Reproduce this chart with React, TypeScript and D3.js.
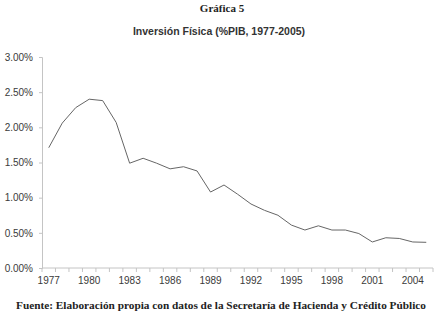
import React, { useEffect, useRef } from "react";
import * as d3 from "d3";

const years = d3.range(1977, 2006).map(String);
const inversion = [
  1.71, 2.06, 2.28, 2.4, 2.38, 2.07, 1.49, 1.56, 1.49, 1.41, 1.44, 1.38, 1.08,
  1.18, 1.05, 0.91, 0.82, 0.75, 0.61, 0.54, 0.6, 0.54, 0.54, 0.49, 0.37, 0.43,
  0.42, 0.37, 0.365,
];
const yTicks = [0, 0.5, 1, 1.5, 2, 2.5, 3];
const yearLabels = years.filter((_, i) => i % 3 === 0);

export default function App() {
  const ref = useRef<SVGSVGElement | null>(null);
  const width = 441;
  const height = 319;
  const marginTop = 57;
  const marginRight = 8;
  const marginBottom = 51;
  const marginLeft = 42;

  useEffect(() => {
    const x = d3
      .scaleBand()
      .domain(years)
      .range([marginLeft, width - marginRight]);

    const y = d3
      .scaleLinear()
      .domain([0, 3])
      .range([height - marginBottom, marginTop]);

    const svg = d3.select(ref.current);
    svg.selectAll("*").remove();
    svg
      .attr("width", width)
      .attr("height", height)
      .attr("viewBox", [0, 0, width, height])
      .style("background", "#fff")
      .style("display", "block");

    // titles
    svg
      .append("text")
      .attr("x", 222)
      .attr("y", 12)
      .attr("text-anchor", "middle")
      .attr("font-family", "Liberation Serif, serif")
      .attr("font-weight", "bold")
      .attr("font-size", 11)
      .attr("fill", "#222")
      .text("Gráfica 5");

    svg
      .append("text")
      .attr("x", 219)
      .attr("y", 35)
      .attr("text-anchor", "middle")
      .attr("font-family", "Liberation Sans, Arial, sans-serif")
      .attr("font-weight", "bold")
      .attr("font-size", 10.5)
      .attr("fill", "#333")
      .text("Inversión Física (%PIB, 1977-2005)");

    // y axis
    const gy = svg
      .append("g")
      .attr("transform", `translate(${marginLeft},0)`)
      .call(
        d3
          .axisLeft(y)
          .tickValues(yTicks)
          .tickSize(3)
          .tickPadding(6)
          .tickFormat((d) => d3.format(".2f")(d as number) + "%")
      );
    gy.select(".domain").attr("stroke", "#c4c4c4");
    gy.selectAll(".tick line").attr("stroke", "#c4c4c4");
    gy.selectAll("text")
      .attr("font-family", "Liberation Sans, Arial, sans-serif")
      .attr("font-size", 10)
      .attr("fill", "#3a3a3a");

    // x axis: ticks at category boundaries
    const gx = svg
      .append("g")
      .attr("transform", `translate(0,${height - marginBottom})`);
    gx.append("line")
      .attr("x1", marginLeft)
      .attr("x2", width - marginRight)
      .attr("stroke", "#c4c4c4");
    gx.selectAll(".bt")
      .data(years.concat(["end"]))
      .join("line")
      .attr("x1", (d, i) => marginLeft + i * x.step())
      .attr("x2", (d, i) => marginLeft + i * x.step())
      .attr("y2", 4)
      .attr("stroke", "#c4c4c4");
    gx.selectAll("text")
      .data(yearLabels)
      .join("text")
      .attr("x", (d) => (x(d) as number) + x.bandwidth() / 2)
      .attr("y", 16)
      .attr("text-anchor", "middle")
      .attr("font-family", "Liberation Sans, Arial, sans-serif")
      .attr("font-size", 10)
      .attr("fill", "#3a3a3a")
      .text((d) => d);

    // line
    svg
      .append("path")
      .datum(inversion)
      .attr("fill", "none")
      .attr("stroke", "#666")
      .attr("stroke-width", 1)
      .attr(
        "d",
        d3
          .line<number>()
          .x((d, i) => (x(years[i]) as number) + x.bandwidth() / 2)
          .y((d) => y(d))
      );

    // source
    svg
      .append("text")
      .attr("x", 221)
      .attr("y", 309)
      .attr("text-anchor", "middle")
      .attr("font-family", "Liberation Serif, serif")
      .attr("font-weight", "bold")
      .attr("font-size", 11.3)
      .attr("fill", "#222")
      .text(
        "Fuente: Elaboración propia con datos de la Secretaría de Hacienda y Crédito Público"
      );
  }, []);

  return (
    <div style={{ position: "absolute", left: 0, top: 0 }}>
      <svg ref={ref}></svg>
    </div>
  );
}
